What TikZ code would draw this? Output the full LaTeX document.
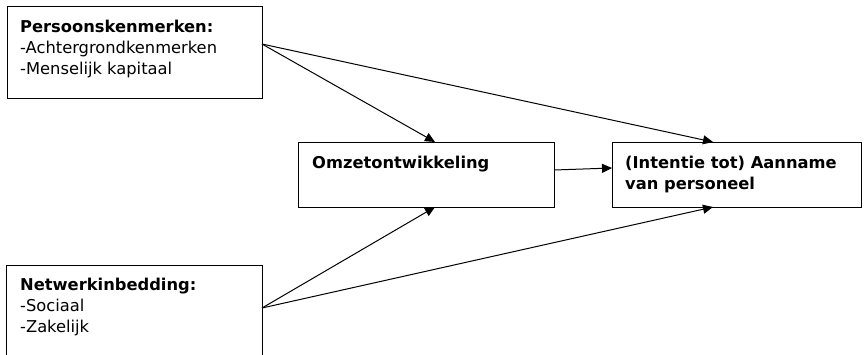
\documentclass[tikz,border=0pt]{standalone}
\usepackage{fontspec}
\setmainfont{DejaVu Sans}
\usetikzlibrary{arrows.meta}
\begin{document}
\begin{tikzpicture}[x=1pt,y=-1pt,
  box/.style={draw=black,line width=1.1pt,inner sep=0pt,anchor=north west},
  lbl/.style={anchor=base west,inner sep=0pt,align=left,font=\fontsize{16.3}{21}\selectfont},
  arr/.style={line width=1pt,-{Triangle[length=10pt,width=9pt]}}]
\clip (0,0) rectangle (864,354);
\fill[white] (0,0) rectangle (864,354);
\node[box,minimum width=255pt,minimum height=92pt] (b1) at (7,6) {};
\node[box,minimum width=256pt,minimum height=100pt] (b2) at (6,265) {};
\node[box,minimum width=256pt,minimum height=65pt] (b3) at (298,142) {};
\node[box,minimum width=249pt,minimum height=65pt] (b4) at (612,142) {};
% base anchor = baseline of the last line
\node[lbl] (t1) at (20,74) {\textbf{Persoonskenmerken:}\\-Achtergrondkenmerken\\-Menselijk kapitaal};
\node[lbl] (t2) at (20,332) {\textbf{Netwerkinbedding:}\\-Sociaal\\-Zakelijk};
\node[lbl] (t3) at (312,168) {\textbf{Omzetontwikkeling}};
\node[lbl] (t4) at (625,189) {\textbf{(Intentie tot) Aanname}\\\textbf{van personeel}};
\coordinate (s1) at (262,44);
\coordinate (s2) at (262,308);
\coordinate (e3t) at (435,142);
\coordinate (e3b) at (435,207);
\coordinate (e4t) at (713,142);
\coordinate (e4b) at (713,207);
\coordinate (s3) at (554,170);
\coordinate (e4l) at (612,168);
\draw[arr] (s1) -- (e3t);
\draw[arr] (s1) -- (e4t);
\draw[arr] (s2) -- (e3b);
\draw[arr] (s2) -- (e4b);
\draw[arr] (s3) -- (e4l);
\end{tikzpicture}
\end{document}
